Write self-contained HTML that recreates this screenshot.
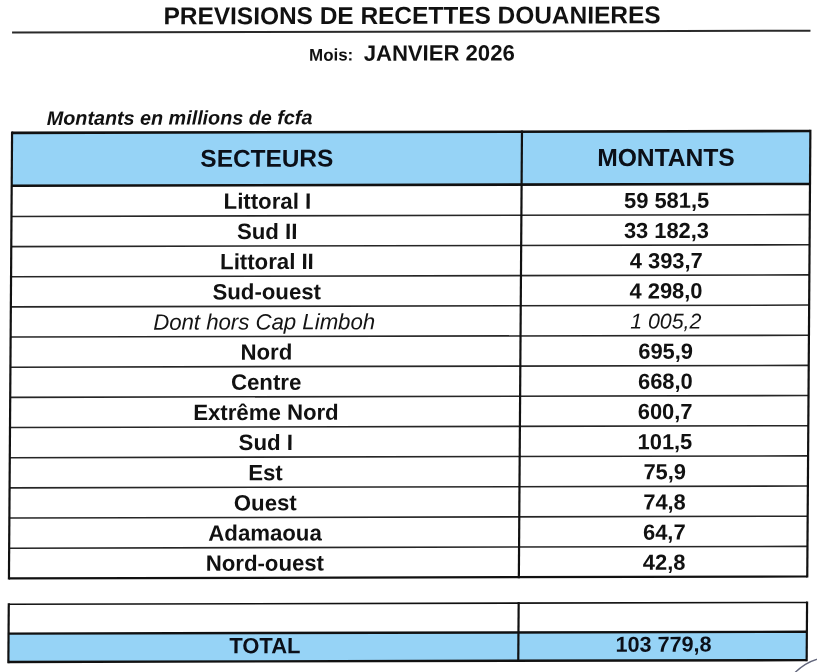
<!DOCTYPE html>
<html><head><meta charset="utf-8"><title>Prévisions de recettes douanières</title>
<style>
html,body{margin:0;padding:0;background:#ffffff;width:817px;height:672px;overflow:hidden}
svg{position:absolute;left:0;top:0;display:block;filter:blur(0.3px)}
text{font-family:"Liberation Sans",sans-serif;white-space:pre}
.b{font-weight:bold}
.bi{font-weight:bold;font-style:italic}
.i{font-style:italic}
</style></head><body>
<svg width="817" height="672" viewBox="0 0 817 672">
<g transform="matrix(1,-0.0023,-0.007,1,0,0)">
<text x="165.00" y="24.75" font-size="24.45" class="b" fill="#111111" text-anchor="start" dx="-1.3">PREVISIONS DE RECETTES DOUANIERES</text>
<rect x="12.30" y="31.60" width="798.40" height="2" fill="#2a2a2a"/>
<text x="310.70" y="61.40" font-size="16.9" class="b" fill="#111111" text-anchor="start" dx="-1.2">Mois:</text>
<text x="364.60" y="61.60" font-size="22.1" class="b" fill="#111111" text-anchor="start" dx="-0.5">JANVIER 2026</text>
<text x="47.70" y="125.00" font-size="19.75" class="bi" fill="#111111" text-anchor="start" dx="0">Montants en millions de fcfa</text>
<rect x="13.00" y="132.90" width="798.30" height="52.90" fill="#96d3f6"/>
<text x="267.95" y="167.30" font-size="24.4" class="b" fill="#0b0f18" text-anchor="middle">SECTEURS</text>
<text x="667.10" y="167.50" font-size="24.6" class="b" fill="#0b0f18" text-anchor="middle">MONTANTS</text>
<rect x="13.00" y="215.66" width="798.30" height="1.6" fill="#262626"/>
<rect x="13.00" y="245.82" width="798.30" height="1.6" fill="#262626"/>
<rect x="13.00" y="275.98" width="798.30" height="1.6" fill="#262626"/>
<rect x="13.00" y="306.14" width="798.30" height="1.6" fill="#262626"/>
<rect x="13.00" y="336.30" width="798.30" height="1.6" fill="#262626"/>
<rect x="13.00" y="366.46" width="798.30" height="1.6" fill="#262626"/>
<rect x="13.00" y="396.62" width="798.30" height="1.6" fill="#262626"/>
<rect x="13.00" y="426.78" width="798.30" height="1.6" fill="#262626"/>
<rect x="13.00" y="456.94" width="798.30" height="1.6" fill="#262626"/>
<rect x="13.00" y="487.10" width="798.30" height="1.6" fill="#262626"/>
<rect x="13.00" y="517.26" width="798.30" height="1.6" fill="#262626"/>
<rect x="13.00" y="547.42" width="798.30" height="1.6" fill="#262626"/>
<text x="268.85" y="209.40" font-size="22.2" class="b" fill="#111111" text-anchor="middle">Littoral I</text>
<text x="668.10" y="209.40" font-size="21.85" class="b" fill="#111111" text-anchor="middle">59 581,5</text>
<text x="268.85" y="239.56" font-size="22.2" class="b" fill="#111111" text-anchor="middle">Sud II</text>
<text x="668.10" y="239.56" font-size="21.85" class="b" fill="#111111" text-anchor="middle">33 182,3</text>
<text x="268.85" y="269.72" font-size="22.2" class="b" fill="#111111" text-anchor="middle">Littoral II</text>
<text x="668.10" y="269.72" font-size="21.85" class="b" fill="#111111" text-anchor="middle">4 393,7</text>
<text x="268.85" y="299.88" font-size="22.2" class="b" fill="#111111" text-anchor="middle">Sud-ouest</text>
<text x="668.10" y="299.88" font-size="21.85" class="b" fill="#111111" text-anchor="middle">4 298,0</text>
<text x="266.45" y="330.04" font-size="22.2" class="i" fill="#141414" text-anchor="middle">Dont hors Cap Limboh</text>
<text x="668.10" y="330.04" font-size="21.3" class="i" fill="#141414" text-anchor="middle">1 005,2</text>
<text x="268.85" y="360.20" font-size="22.2" class="b" fill="#111111" text-anchor="middle">Nord</text>
<text x="668.10" y="360.20" font-size="21.85" class="b" fill="#111111" text-anchor="middle">695,9</text>
<text x="268.85" y="390.36" font-size="22.2" class="b" fill="#111111" text-anchor="middle">Centre</text>
<text x="668.10" y="390.36" font-size="21.85" class="b" fill="#111111" text-anchor="middle">668,0</text>
<text x="268.85" y="420.52" font-size="22.2" class="b" fill="#111111" text-anchor="middle">Extrême Nord</text>
<text x="668.10" y="420.52" font-size="21.85" class="b" fill="#111111" text-anchor="middle">600,7</text>
<text x="268.85" y="450.68" font-size="22.2" class="b" fill="#111111" text-anchor="middle">Sud I</text>
<text x="668.10" y="450.68" font-size="21.85" class="b" fill="#111111" text-anchor="middle">101,5</text>
<text x="268.85" y="480.84" font-size="22.2" class="b" fill="#111111" text-anchor="middle">Est</text>
<text x="668.10" y="480.84" font-size="21.85" class="b" fill="#111111" text-anchor="middle">75,9</text>
<text x="268.85" y="511.00" font-size="22.2" class="b" fill="#111111" text-anchor="middle">Ouest</text>
<text x="668.10" y="511.00" font-size="21.85" class="b" fill="#111111" text-anchor="middle">74,8</text>
<text x="268.85" y="541.16" font-size="22.2" class="b" fill="#111111" text-anchor="middle">Adamaoua</text>
<text x="668.10" y="541.16" font-size="21.85" class="b" fill="#111111" text-anchor="middle">64,7</text>
<text x="268.85" y="571.32" font-size="22.2" class="b" fill="#111111" text-anchor="middle">Nord-ouest</text>
<text x="668.10" y="571.32" font-size="21.85" class="b" fill="#111111" text-anchor="middle">42,8</text>
<rect x="13.00" y="131.60" width="798.30" height="2.6" fill="#111"/>
<rect x="13.00" y="184.50" width="798.30" height="2.6" fill="#111"/>
<rect x="13.00" y="577.28" width="798.30" height="2.2" fill="#111"/>
<rect x="11.90" y="131.60" width="2.2" height="447.88" fill="#111"/>
<rect x="810.20" y="131.60" width="2.2" height="447.88" fill="#111"/>
<rect x="521.80" y="131.60" width="2.2" height="447.88" fill="#111"/>
<rect x="13.00" y="633.65" width="798.30" height="28.35" fill="#96d3f6"/>
<text x="269.45" y="653.90" font-size="22.0" class="b" fill="#0b0f18" text-anchor="middle">TOTAL</text>
<text x="668.10" y="653.20" font-size="21.6" class="b" fill="#0b0f18" text-anchor="middle">103 779,8</text>
<rect x="13.00" y="603.50" width="798.30" height="1.6" fill="#111"/>
<rect x="13.00" y="632.45" width="798.30" height="2.4" fill="#111"/>
<rect x="13.00" y="660.80" width="798.30" height="2.4" fill="#111"/>
<rect x="11.90" y="603.30" width="2.2" height="59.90" fill="#111"/>
<rect x="810.20" y="603.30" width="2.2" height="59.90" fill="#111"/>
<rect x="521.80" y="603.30" width="2.2" height="59.90" fill="#111"/>
</g>
<circle cx="832.9" cy="710.5" r="53.6" fill="none" stroke="#62667c" stroke-width="1.4"/>
</svg>
</body></html>
